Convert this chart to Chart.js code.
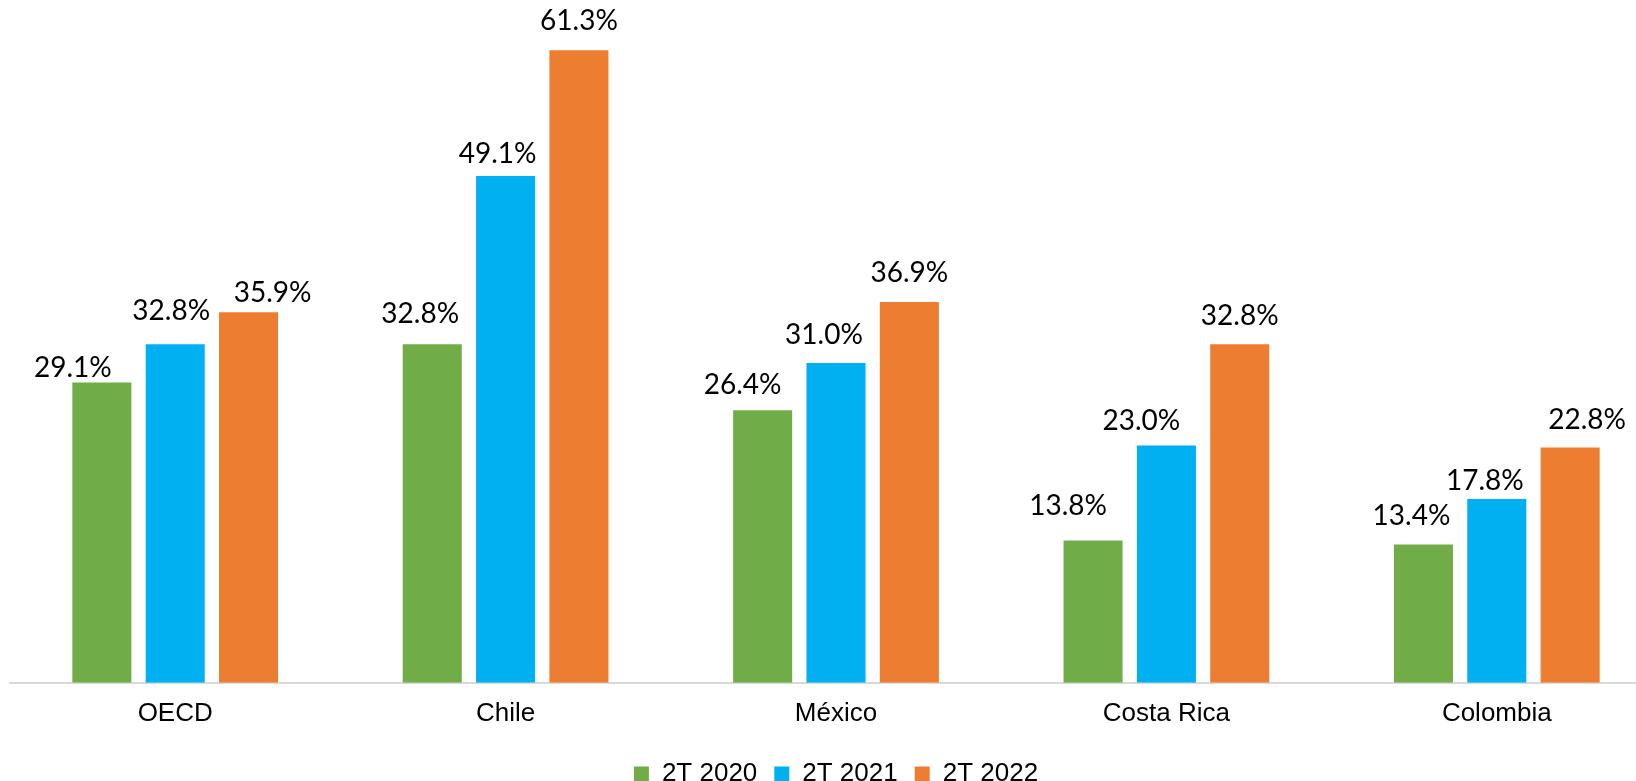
<!DOCTYPE html>
<html lang="es">
<head>
  <meta charset="UTF-8" />
  <title>2T 2020 - 2T 2022</title>
  <script src="https://cdn.jsdelivr.net/npm/chart.js"></script>
  <style>
    html, body { margin: 0; padding: 0; background: #fff; overflow: hidden; }
    /* plot runs a bit past the right edge in the original, so the canvas is wider than the window */
    #wrap { position: relative; width: 1672px; height: 781px; }
  </style>
</head>
<body>
  <div id="wrap"><canvas id="chart"></canvas></div>

  <script>
    const categories = ['OECD', 'Chile', 'México', 'Costa Rica', 'Colombia']
    const seriesNames = ['2T 2020', '2T 2021', '2T 2022']
    const values2020 = [29.1, 32.8, 26.4, 13.8, 13.4]
    const values2021 = [32.8, 49.1, 31.0, 23.0, 17.8]
    const values2022 = [35.9, 61.3, 36.9, 32.8, 22.8]
    const colors = ['#70AD47', '#00B0F0', '#ED7D31']

    // labels were nudged by hand in the original: x shift and gap above the bar
    const labelDx = [
      [-29, -12, -20, -25, -12],
      [-4, -8, -12, -25, -12],
      [24, 0, 0, 0, 17]
    ]
    const labelGap = [
      [5, 21, 16, 25, 20],
      [24, 13, 19, 15, 9],
      [10, 20, 20, 19, 19]
    ]

    const axisFont = { family: "'Liberation Sans', Arial, sans-serif", size: 26 }

    const valueLabels = {
      id: 'valueLabels',
      afterDatasetsDraw(chart) {
        const ctx = chart.ctx
        ctx.save()
        ctx.font = "28px Lato, 'Open Sans', sans-serif"
        ctx.fillStyle = '#000'
        ctx.textAlign = 'center'
        ctx.textBaseline = 'alphabetic'
        chart.data.datasets.forEach((ds, i) => {
          chart.getDatasetMeta(i).data.forEach((bar, j) => {
            const text = ds.data[j].toFixed(1) + '%'
            ctx.fillText(text, bar.x + labelDx[i][j], bar.y - labelGap[i][j])
          })
        })
        ctx.restore()
      }
    }

    const series = [values2020, values2021, values2022]

    new Chart(document.getElementById('chart'), {
      type: 'bar',
      data: {
        labels: categories,
        datasets: series.map((vals, i) => ({
          label: seriesNames[i],
          data: vals,
          backgroundColor: colors[i],
          categoryPercentage: 0.666,
          barPercentage: 0.805
        }))
      },
      options: {
        responsive: true,
        maintainAspectRatio: false,
        animation: false,
        // negative bottom padding pulls the legend down to where the original has it
        layout: { padding: { left: 10, right: 10, top: 12, bottom: -16 } },
        plugins: {
          legend: {
            position: 'bottom',
            labels: {
              boxWidth: 15,
              boxHeight: 15,
              padding: 17,
              color: '#000',
              font: axisFont
            }
          },
          tooltip: { enabled: false }
        },
        scales: {
          x: {
            grid: { display: false, drawTicks: false },
            border: { display: true, color: '#D9D9D9', width: 2 },
            ticks: { color: '#000', padding: 15, font: axisFont }
          },
          y: { display: false, min: 0, max: 65 }
        }
      },
      plugins: [valueLabels]
    })
  </script>
</body>
</html>
